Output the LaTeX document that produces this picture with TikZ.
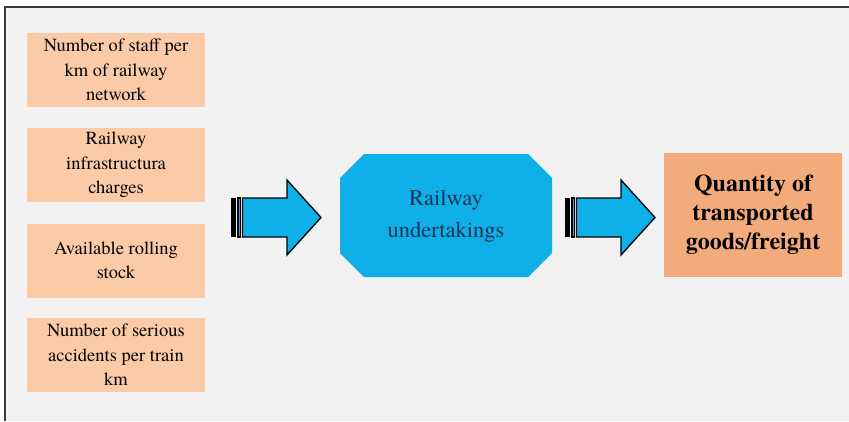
\documentclass[tikz,border=0pt]{standalone}
\usepackage{fontspec}
\setmainfont{texgyretermes}[Extension=.otf, UprightFont=*-regular, BoldFont=*-bold]
\usepackage{xcolor}
\usepackage{tikz}
\usetikzlibrary{positioning, calc}
\definecolor{bggray}{HTML}{F2F2F2}
\definecolor{peach}{HTML}{FBCBA8}
\definecolor{sand}{HTML}{F4AB7C}
\definecolor{cyanbox}{HTML}{0FAFE9}
\definecolor{navytext}{HTML}{1B3550}
\definecolor{framegray}{HTML}{3C3C3C}

\begin{document}
\begin{tikzpicture}[x=1pt, y=-1pt,
    factor/.style={fill=peach, minimum width=178pt, minimum height=74pt, inner sep=0pt, align=center, font=\fontsize{18.5}{24.5}\selectfont},
    result/.style={fill=sand, minimum width=178pt, minimum height=124pt, inner sep=0pt, align=center, font=\fontsize{24}{29}\selectfont\bfseries},
    blockarrow/.style={fill=cyanbox, draw=black, line width=1.3pt, line join=miter}]
      \useasboundingbox (0,0) rectangle (849,421);
      \fill [white] (0,0) rectangle (849,421);
      \fill [bggray] (5,7) rectangle (849,421);
      \draw [framegray, line width=2.5pt] (5,421) -- (5,7) -- (849,7);

      % inputs
      \node[factor] (staff) at (116,70) {Number of staff per\\km of railway\\network};
      \node[factor] (charges) at (116,165) {Railway\\infrastructura\\charges};
      \node[factor] (stock) at (116,260.5) {Available rolling\\stock};
      \node[factor] (accidents) at (116,355) {Number of serious\\accidents per train\\km};

      % railway undertakings
      \fill [cyanbox] (364,154) -- (528,154) -- (552,178) -- (552,253) -- (528,277) -- (364,277) -- (340,253) -- (340,178) -- cycle;
      \node[align=center, text=navytext, font=\fontsize{22.5}{32}\selectfont] (hub) at (446,216) {Railway\\undertakings};

      % output
      \node[result] (goods) at (753,215) {Quantity of\\transported\\goods/freight};

      % arrows
      \foreach \dx in {0,334} {
        \begin{scope}[shift={(\dx,0)}]
          \fill [black] (231,198) rectangle (236,237);
          \draw [blockarrow] (238,198) rectangle (240.5,237);
          \draw [blockarrow] (242.5,198) -- (287,198) -- (287,180) -- (321,217.5) -- (287,255) -- (287,237) -- (242.5,237) -- cycle;
        \end{scope}
      }
    \end{tikzpicture}
\end{document}
